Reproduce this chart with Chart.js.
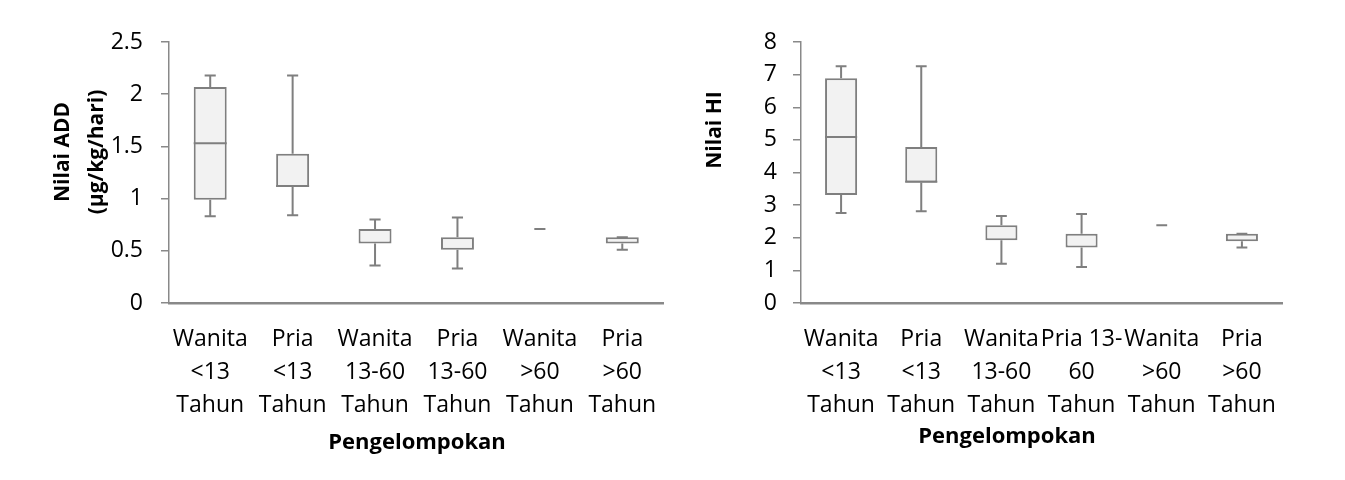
<!DOCTYPE html>
<html>
<head>
<meta charset="utf-8">
<script src="https://cdn.jsdelivr.net/npm/chart.js@4.4.1/dist/chart.umd.min.js"></script>
<style>
  html, body { margin: 0; padding: 0; background: #ffffff; }
  #wrap { position: relative; width: 1345px; height: 480px; }
  canvas { position: absolute; top: 0; }
</style>
</head>
<body>
<div id="wrap">
  <canvas id="c1" width="672" height="480" style="left:0px"></canvas>
  <canvas id="c2" width="673" height="480" style="left:672px"></canvas>
</div>
<script>
// ---------- DATA ----------
const labelsADD = [["Wanita","<13","Tahun"],["Pria","<13","Tahun"],["Wanita","13-60","Tahun"],["Pria","13-60","Tahun"],["Wanita",">60","Tahun"],["Pria",">60","Tahun"]];
const labelsHI  = [["Wanita","<13","Tahun"],["Pria","<13","Tahun"],["Wanita","13-60","Tahun"],["Pria 13-","60","Tahun"],["Wanita",">60","Tahun"],["Pria",">60","Tahun"]];

const addMin    = [0.83, 0.84, 0.36, 0.33, 0.71, 0.51];
const addQ1     = [0.99, 1.11, 0.57, 0.51, 0.71, 0.57];
const addMedian = [1.53, 1.12, 0.57, 0.51, 0.71, 0.57];
const addQ3     = [2.07, 1.43, 0.71, 0.63, 0.71, 0.63];
const addMax    = [2.18, 2.18, 0.80, 0.82, 0.71, 0.63];

const hiMin    = [2.76, 2.81, 1.20, 1.10, 2.38, 1.70];
const hiQ1     = [3.31, 3.69, 1.92, 1.70, 2.38, 1.89];
const hiMedian = [5.09, 3.72, 1.92, 1.70, 2.38, 1.89];
const hiQ3     = [6.89, 4.78, 2.38, 2.12, 2.38, 2.12];
const hiMax    = [7.26, 7.26, 2.67, 2.73, 2.38, 2.12];

const yTitleADD = ["Nilai ADD", "(µg/kg/hari)"];
const yTitleHI  = ["Nilai HI"];
const xTitle    = "Pengelompokan";

// ---------- STYLE ----------
const FONT = '"Open Sans", "Liberation Sans", sans-serif';
const BOX_STROKE = '#7f7f7f';
const BOX_FILL = '#f2f2f2';
const AXIS = '#898989';

const boxPlugin = {
  id: 'boxparts',
  beforeDatasetsDraw(chart) {
    const o = chart.options.plugins.boxparts;
    const xs = chart.scales.x, ys = chart.scales.y, ctx = chart.ctx;
    ctx.save();
    ctx.strokeStyle = BOX_STROKE;
    ctx.lineWidth = 2;
    for (let i = 0; i < o.min.length; i++) {
      const x = xs.getPixelForValue(i);
      const catW = xs.getPixelForValue(1) - xs.getPixelForValue(0);
      const capW = catW * 0.135;
      const yMin = ys.getPixelForValue(o.min[i]), yMax = ys.getPixelForValue(o.max[i]);
      const yQ1 = ys.getPixelForValue(o.q1[i]), yQ3 = ys.getPixelForValue(o.q3[i]);
      ctx.beginPath();
      if (yMax < yQ3) { ctx.moveTo(x, yQ3); ctx.lineTo(x, yMax); }
      if (yMin > yQ1) { ctx.moveTo(x, yQ1); ctx.lineTo(x, yMin); }
      ctx.moveTo(x - capW / 2, yMax); ctx.lineTo(x + capW / 2, yMax);
      ctx.moveTo(x - capW / 2, yMin); ctx.lineTo(x + capW / 2, yMin);
      ctx.stroke();
    }
    ctx.restore();
  },
  afterDatasetsDraw(chart) {
    const o = chart.options.plugins.boxparts;
    const xs = chart.scales.x, ys = chart.scales.y, ctx = chart.ctx;
    const meta = chart.getDatasetMeta(0);
    ctx.save();
    ctx.strokeStyle = BOX_STROKE;
    ctx.lineWidth = 2;
    for (let i = 0; i < o.median.length; i++) {
      // median coinciding with a box edge is hidden by that edge
      if (o.median[i] === o.q1[i] || o.median[i] === o.q3[i]) continue;
      const el = meta.data[i];
      const half = el.width / 2;
      const x = xs.getPixelForValue(i);
      const y = ys.getPixelForValue(o.median[i]);
      ctx.beginPath();
      ctx.moveTo(x - half, y); ctx.lineTo(x + half, y);
      ctx.stroke();
    }
    ctx.restore();
  }
};

const titlePlugin = {
  id: 'titles',
  afterDraw(chart) {
    const o = chart.options.plugins.titles;
    const ctx = chart.ctx;
    ctx.save();
    ctx.fillStyle = '#000';
    ctx.textAlign = 'center';
    ctx.textBaseline = 'middle';
    ctx.font = 'bold 21px ' + FONT;
    o.yLines.forEach((t, k) => {
      ctx.save();
      ctx.translate(o.yX[k], o.yY);
      ctx.rotate(-Math.PI / 2);
      ctx.fillText(t, 0, 0);
      ctx.restore();
    });
    ctx.font = 'bold 22px ' + FONT;
    ctx.fillText(o.xText, o.xX, o.xY);
    ctx.restore();
  }
};

function makeChart(id, labels, mn, q1, med, q3, mx, yMax, step, yWidth, padRight, tickPad, titles) {
  const bars = q1.map((v, i) => (v === q3[i] ? null : [v, q3[i]]));
  return new Chart(document.getElementById(id), {
    type: 'bar',
    data: {
      labels: labels,
      datasets: [{
        data: bars,
        backgroundColor: BOX_FILL,
        borderColor: BOX_STROKE,
        borderWidth: 2,
        borderSkipped: false,
        barPercentage: 0.4,
        categoryPercentage: 1.0
      }]
    },
    options: {
      responsive: false,
      animation: false,
      events: [],
      layout: { padding: { top: 42, left: 0, right: padRight, bottom: 0 } },
      plugins: {
        legend: { display: false },
        tooltip: { enabled: false },
        boxparts: { min: mn, q1: q1, median: med, q3: q3, max: mx },
        titles: titles
      },
      scales: {
        x: {
          type: 'category',
          grid: { display: false },
          border: { display: true, color: AXIS, width: 2.5 },
          ticks: {
            color: '#000',
            font: { family: FONT, size: 23, lineHeight: 33 / 23 },
            padding: 11.5,
            maxRotation: 0,
            autoSkip: false
          },
          afterFit(s) { s.height = 177; }
        },
        y: {
          min: 0, max: yMax,
          grid: { display: true, drawOnChartArea: false, drawTicks: true, tickLength: 8, color: AXIS, lineWidth: 1.5 },
          border: { display: true, color: AXIS, width: 1.5 },
          ticks: {
            stepSize: step,
            color: '#000',
            font: { family: FONT, size: 23 },
            padding: tickPad,
            callback: (v) => String(v)
          },
          afterFit(s) { s.width = yWidth; }
        }
      }
    },
    plugins: [boxPlugin, titlePlugin]
  });
}

makeChart('c1', labelsADD, addMin, addQ1, addMedian, addQ3, addMax, 2.5, 0.5, 169, 8.5, 18,
  { yLines: yTitleADD, yX: [63, 97], yY: 152, xText: xTitle, xX: 417, xY: 443 });
makeChart('c2', labelsHI, hiMin, hiQ1, hiMedian, hiQ3, hiMax, 8, 1, 129, 63, 16,
  { yLines: yTitleHI, yX: [43], yY: 130, xText: xTitle, xX: 335, xY: 437 });
</script>
</body>
</html>
